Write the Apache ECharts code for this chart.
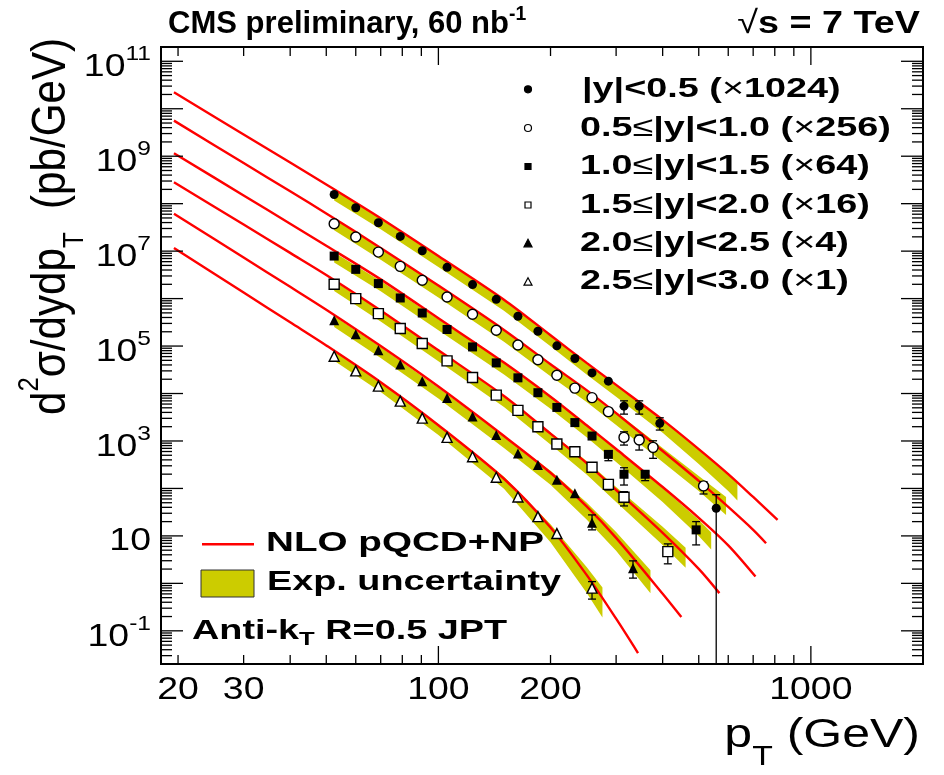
<!DOCTYPE html>
<html>
<head>
<meta charset="utf-8">
<title>Inclusive jet cross section, anti-kT R=0.5 JPT</title>
<script src="https://cdn.jsdelivr.net/npm/echarts@6.0.0/dist/echarts.min.js"></script>
<style>
  html, body { margin: 0; padding: 0; background: #fff; }
  #chart { width: 944px; height: 775px; }
</style>
</head>
<body>
<div id="chart"></div>
<script>
// ---------- measured points: pT bin centre (GeV) and d2sigma/dydpT (pb/GeV), with rapidity scale factor applied ----------
const ptY0 = [52.5, 60, 69, 79, 90.5, 105.5, 123.5, 143, 163.5, 185, 208, 232.5, 258.5, 286, 315, 346, 393, 557];
const xsY0 = [1.56e8, 8.2e7, 3.96e7, 2.04e7, 1.02e7, 4.55e6, 1.97e6, 9.66e5, 4.24e5, 2.05e5, 1.01e5, 5.47e4, 2.72e4, 1.82e4, 5.42e3, 5.42e3, 2.35e3, 38.2];

const ptY1 = [52.5, 60, 69, 79, 90.5, 105.5, 123.5, 143, 163.5, 185, 208, 232.5, 258.5, 286, 315, 346, 377, 515];
const xsY1 = [3.78e7, 1.98e7, 9.55e6, 4.78e6, 2.43e6, 1.08e6, 4.67e5, 2.15e5, 1.05e5, 5.16e4, 2.43e4, 1.30e4, 8.18e3, 4.15e3, 1.19e3, 1.05e3, 734, 113];

const ptY2 = [52.5, 60, 69, 79, 90.5, 105.5, 123.5, 143, 163.5, 185, 208, 232.5, 258.5, 286, 315, 359, 492];
const xsY2 = [7.87e6, 4.13e6, 2.07e6, 1.03e6, 4.97e5, 2.23e5, 9.59e4, 4.42e4, 2.14e4, 1.04e4, 5.09e3, 2.44e3, 1.27e3, 522, 199, 199, 13.4];

const ptY3 = [52.5, 60, 69, 79, 90.5, 105.5, 123.5, 143, 163.5, 185, 208, 232.5, 258.5, 286, 315, 413];
const xsY3 = [2.00e6, 1.00e6, 4.83e5, 2.34e5, 1.13e5, 4.87e4, 2.18e4, 9.24e3, 4.41e3, 1.99e3, 861, 593, 279, 122, 65.2, 4.67];

const ptY4 = [52.5, 60, 69, 79, 90.5, 105.5, 123.5, 143, 163.5, 185, 208, 232.5, 258.5, 333];
const xsY4 = [3.49e5, 1.77e5, 8.17e4, 4.09e4, 1.82e4, 8.0e3, 3.26e3, 1.33e3, 548, 311, 153, 79.1, 19.0, 2.09];

const ptY5 = [52.5, 60, 69, 79, 90.5, 105.5, 123.5, 143, 163.5, 185, 208, 258.5];
const xsY5 = [6.11e4, 3.0e4, 1.43e4, 6.92e3, 3.03e3, 1.19e3, 466, 172, 66.1, 25.5, 11.2, 0.794];

// ---------- statistical error bars on the high-pT points ----------
const errPtY0 = [315, 346, 393, 557];   const errLoY0 = [3.68e3, 3.68e3, 1.70e3, 1e-4]; const errHiY0 = [7.01e3, 7.01e3, 3.08e3, 73.9];
const errPtY1 = [315, 346, 377, 515];   const errLoY1 = [820, 644, 431, 76.4];          const errHiY1 = [1.56e3, 1.33e3, 1.01e3, 139];
const errPtY2 = [286, 315, 359, 492];   const errLoY2 = [384, 118, 146, 6.46];          const errHiY2 = [622, 273, 225, 20.0];
const errPtY3 = [286, 315, 413];        const errLoY3 = [92.7, 42.8, 2.58];             const errHiY3 = [151, 85.5, 6.79];
const errPtY4 = [258.5, 333];           const errLoY4 = [13.4, 1.29];                   const errHiY4 = [27.7, 2.98];
const errPtY5 = [258.5];                const errLoY5 = [0.466];                        const errHiY5 = [1.09];

// ---------- NLO pQCD + non-perturbative corrections ----------
const ptNlo0 = [19.5, 30, 40, 50, 70, 100, 150, 200, 250, 300, 400, 500, 600, 700, 814];
const nlo0   = [2.22e10, 2.88e9, 7.36e8, 2.54e8, 4.93e7, 7.91e6, 9.48e5, 1.69e5, 4.42e4, 1.52e4, 2.79e3, 676, 201, 66.1, 21.7];
const ptNlo1 = [19.5, 30, 40, 50, 70, 100, 150, 200, 250, 300, 400, 500, 600, 700, 758];
const nlo1   = [5.62e9, 7.18e8, 1.82e8, 6.22e7, 1.17e7, 1.88e6, 2.19e5, 4.13e4, 1.18e4, 3.86e3, 614, 144, 40.7, 13.4, 7.02];
const ptNlo2 = [19.5, 30, 40, 50, 70, 100, 150, 200, 250, 300, 400, 500, 600, 710];
const nlo2   = [1.16e9, 1.49e8, 3.78e7, 1.30e7, 2.54e6, 3.85e5, 4.48e4, 8.55e3, 2.14e3, 676, 107, 24.0, 6.31, 1.39];
const ptNlo3 = [19.5, 30, 40, 50, 70, 100, 150, 200, 250, 300, 400, 500, 568];
const nlo3   = [2.84e8, 3.64e7, 9.19e6, 3.15e6, 5.62e5, 8.13e4, 8.89e3, 1.43e3, 343, 92.7, 11.6, 2.02, 0.623];
const ptNlo4 = [19.5, 30, 40, 50, 70, 100, 150, 200, 250, 300, 400, 449];
const nlo4   = [6.14e7, 7.31e6, 1.77e6, 5.83e5, 1.00e5, 1.40e4, 1.27e3, 214, 41.7, 9.08, 0.603, 0.195];
const ptNlo5 = [19.5, 30, 40, 50, 70, 100, 150, 200, 250, 300, 343.5];
const nlo5   = [1.16e7, 1.34e6, 3.16e5, 1.03e5, 1.73e4, 2.15e3, 160, 15.1, 1.51, 0.180, 0.034];

// ---------- experimental uncertainty bands ----------
const ptBand0 = [52.5, 70, 100, 150, 200, 250, 300, 400, 500, 600, 635];
const bandHi0 = [2.00e8, 4.93e7, 7.91e6, 9.48e5, 1.69e5, 4.42e4, 1.52e4, 2.79e3, 676, 201, 134];
const bandLo0 = [1.17e8, 2.90e7, 4.65e6, 5.57e5, 9.93e4, 2.53e4, 8.51e3, 1.49e3, 327, 88.3, 55.8];
const ptBand1 = [52.5, 70, 100, 150, 200, 250, 300, 400, 500, 592];
const bandHi1 = [4.89e7, 1.17e7, 1.88e6, 2.19e5, 4.13e4, 1.18e4, 4.06e3, 710, 183, 65.8];
const bandLo1 = [2.74e7, 6.55e6, 1.05e6, 1.23e5, 2.31e4, 6.59e3, 2.16e3, 361, 88.5, 27.5];
const ptBand2 = [52.5, 70, 100, 150, 200, 250, 300, 400, 500, 540];
const bandHi2 = [9.33e6, 2.36e6, 3.66e5, 4.48e4, 8.97e3, 2.24e3, 676, 102, 21.8, 11.8];
const bandLo2 = [5.75e6, 1.42e6, 2.15e5, 2.51e4, 4.79e3, 1.20e3, 361, 51.8, 10.0, 5.18];
const ptBand3 = [52.5, 70, 100, 150, 200, 250, 300, 400, 461];
const bandHi3 = [2.34e6, 5.50e5, 8.13e4, 8.89e3, 1.50e3, 378, 107, 15.5, 5.62];
const bandLo3 = [1.44e6, 3.30e5, 4.78e4, 5.22e3, 841, 196, 51.9, 6.47, 2.14];
const ptBand4 = [52.5, 70, 100, 150, 200, 250, 300, 371];
const bandHi4 = [4.31e5, 9.55e4, 1.33e4, 1.27e3, 236, 50.6, 12.1, 1.89];
const bandLo4 = [2.53e5, 5.61e4, 7.82e3, 710, 120, 22.2, 4.84, 0.619];
const ptBand5 = [52.5, 70, 100, 150, 200, 250, 275.7];
const bandHi5 = [7.93e4, 1.73e4, 2.26e3, 176, 17.5, 2.22, 0.818];
const bandLo5 = [4.89e4, 1.07e4, 1.33e3, 98.4, 7.32, 0.631, 0.191];

// ---------- axes ----------
const xMin = 18, xMax = 2000, yMin = 0.02, yMax = 2e11;
const xTickValues = [20, 30, 40, 50, 60, 70, 80, 90, 100, 200, 300, 400, 500, 600, 700, 800, 900, 1000];
const xMajorTicks = [100, 1000];
const xLabelValues = [20, 30, 100, 200, 1000];
const yLabelExponents = [-1, 1, 3, 5, 7, 9, 11];

const legendTexts = [
  ['', '|y|<0.5 (', '1024)'],
  ['0.5', '|y|<1.0 (', '256)'],
  ['1.0', '|y|<1.5 (', '64)'],
  ['1.5', '|y|<2.0 (', '16)'],
  ['2.0', '|y|<2.5 (', '4)'],
  ['2.5', '|y|<3.0 (', '1)']
];

// ---------- styling ----------
const FF = '"Liberation Sans", Arial, Helvetica, sans-serif';
const RED = '#ff0000';
const BAND = '#cccc00';
const markerStyles = [
  { symbol: 'circle',   size: 9,  fill: '#000' },
  { symbol: 'circle',   size: 10, fill: '#fff' },
  { symbol: 'rect',     size: 9,  fill: '#000' },
  { symbol: 'rect',     size: 10, fill: '#fff' },
  { symbol: 'triangle', size: 10, fill: '#000' },
  { symbol: 'triangle', size: 10, fill: '#fff' }
];
const TICK_SX = 1.17;     // tick labels are drawn slightly widened
const LEG_SX = 1.35;      // legend lettering is wide and heavy

const measureCtx = document.createElement('canvas').getContext('2d');
function fontOf(size, bold) { return (bold ? 'bold ' : '') + size + 'px ' + FF; }
function textWidth(t, font) { measureCtx.font = font; return measureCtx.measureText(t).width; }

// one line of text made of pieces that may be raised (superscript) or lowered (subscript);
// sx stretches the glyphs along the line, sy across it
function textRun(pieces, x, y, align, sx, sy) {
  sx = sx || 1; sy = sy || 1;
  const fonts = pieces.map(p => fontOf(p.size, p.bold));
  const widths = pieces.map((p, i) => textWidth(p.t, fonts[i]) * sx);
  const total = widths.reduce((a, b) => a + b, 0);
  let cx = align === 'right' ? x - total : align === 'center' ? x - total / 2 : x;
  return pieces.map((p, i) => {
    const el = {
      type: 'text', x: cx, y: y + (p.dy || 0), scaleX: sx, scaleY: sy, silent: true,
      style: { text: p.t, font: fonts[i], fill: '#000',
               textAlign: 'left', textVerticalAlign: 'middle', align: 'left', verticalAlign: 'middle' }
    };
    cx += widths[i];
    return el;
  });
}

const points = [[ptY0, xsY0], [ptY1, xsY1], [ptY2, xsY2], [ptY3, xsY3], [ptY4, xsY4], [ptY5, xsY5]];
const errors = [
  [errPtY0, errLoY0, errHiY0], [errPtY1, errLoY1, errHiY1], [errPtY2, errLoY2, errHiY2],
  [errPtY3, errLoY3, errHiY3], [errPtY4, errLoY4, errHiY4], [errPtY5, errLoY5, errHiY5]
];
const curves = [[ptNlo0, nlo0], [ptNlo1, nlo1], [ptNlo2, nlo2], [ptNlo3, nlo3], [ptNlo4, nlo4], [ptNlo5, nlo5]];
const bands = [
  [ptBand0, bandLo0, bandHi0], [ptBand1, bandLo1, bandHi1], [ptBand2, bandLo2, bandHi2],
  [ptBand3, bandLo3, bandHi3], [ptBand4, bandLo4, bandHi4], [ptBand5, bandLo5, bandHi5]
];

const series = [];

// uncertainty bands: one filled polygon per rapidity bin
bands.forEach(([pt, lo, hi]) => {
  series.push({
    type: 'custom', z: 1, clip: true, silent: true,
    data: pt.map((p, i) => [p, lo[i], hi[i]]),
    encode: { x: 0, y: [1, 2] },
    renderItem: (params, api) => {
      if (params.dataIndex !== 0) return null;
      const upper = pt.map((p, i) => api.coord([p, hi[i]]));
      const lower = pt.map((p, i) => api.coord([p, lo[i]])).reverse();
      return { type: 'polygon', shape: { points: upper.concat(lower) }, style: { fill: BAND } };
    }
  });
});

// NLO curves
curves.forEach(([pt, v]) => {
  series.push({
    type: 'line', z: 2, silent: true, showSymbol: false, smooth: 0.3,
    data: pt.map((p, i) => [p, v[i]]),
    lineStyle: { color: RED, width: 2.4 }
  });
});

// error bars
errors.forEach(([pt, lo, hi]) => {
  series.push({
    type: 'custom', z: 3, clip: true, silent: true,
    data: pt.map((p, i) => [p, lo[i], hi[i]]),
    encode: { x: 0, y: [1, 2] },
    renderItem: (params, api) => {
      const a = api.coord([api.value(0), api.value(1)]);
      const b = api.coord([api.value(0), api.value(2)]);
      const st = { stroke: '#000', lineWidth: 1.3 };
      return { type: 'group', children: [
        { type: 'line', shape: { x1: a[0], y1: a[1], x2: b[0], y2: b[1] }, style: st },
        { type: 'line', shape: { x1: a[0] - 4, y1: a[1], x2: a[0] + 4, y2: a[1] }, style: st },
        { type: 'line', shape: { x1: b[0] - 4, y1: b[1], x2: b[0] + 4, y2: b[1] }, style: st }
      ] };
    }
  });
});

// data points
points.forEach(([pt, v], k) => {
  const m = markerStyles[k];
  series.push({
    type: 'scatter', z: 4, silent: true,
    symbol: m.symbol, symbolSize: m.size,
    data: pt.map((p, i) => [p, v[i]]),
    itemStyle: { color: m.fill, borderColor: '#000', borderWidth: m.fill === '#fff' ? 1.4 : 0, opacity: 1 }
  });
});

// x ticks (bottom and top) and labels
series.push({
  type: 'custom', z: 5, silent: true,
  data: xTickValues.map(v => [v, 1]),
  encode: { x: 0, y: 1 },
  renderItem: (params, api) => {
    const v = api.value(0);
    const cs = params.coordSys;
    const px = api.coord([v, 1])[0];
    const len = xMajorTicks.includes(v) ? 18 : 9;
    const bottom = cs.y + cs.height, top = cs.y;
    const st = { stroke: '#000', lineWidth: 1.3 };
    const children = [
      { type: 'line', shape: { x1: px, y1: bottom, x2: px, y2: bottom - len }, style: st },
      { type: 'line', shape: { x1: px, y1: top, x2: px, y2: top + len }, style: st }
    ];
    if (xLabelValues.includes(v)) {
      textRun([{ t: String(v), size: 32 }], px, bottom + 26, 'center', TICK_SX)
        .forEach(el => children.push(el));
    }
    return { type: 'group', children };
  }
});

// y ticks (left and right) and labels
const yTickValues = [];
for (let n = -2; n <= 11; n++) {
  for (let k = 1; k <= 9; k++) {
    const v = k * Math.pow(10, n);
    if (v >= yMin * 0.999 && v <= yMax * 1.001) yTickValues.push([100, v, k === 1 ? 1 : 0, n]);
  }
}
series.push({
  type: 'custom', z: 5, silent: true,
  data: yTickValues,
  encode: { x: 0, y: 1 },
  renderItem: (params, api) => {
    const cs = params.coordSys;
    const py = api.coord([100, api.value(1)])[1];
    const major = api.value(2) === 1;
    const n = api.value(3);
    const len = major ? 22 : 11;
    const left = cs.x, right = cs.x + cs.width;
    const st = { stroke: '#000', lineWidth: 1.3 };
    const children = [
      { type: 'line', shape: { x1: left, y1: py, x2: left + len, y2: py }, style: st },
      { type: 'line', shape: { x1: right, y1: py, x2: right - len, y2: py }, style: st }
    ];
    if (major && yLabelExponents.includes(n)) {
      const pieces = n === 1 ? [{ t: '10', size: 32, dy: 5 }]
                             : [{ t: '10', size: 32, dy: 6 }, { t: String(n), size: 21, dy: -7 }];
      textRun(pieces, left - 10, py, 'right', TICK_SX).forEach(el => children.push(el));
    }
    return { type: 'group', children };
  }
});

// ---------- annotations ----------
const graphics = [];
// header
textRun([{ t: 'CMS preliminary, 60 nb', size: 32, bold: true }, { t: '-1', size: 20, bold: true, dy: -10 }], 168, 24, 'left', 0.97)
  .forEach(e => graphics.push(e));
textRun([{ t: '\u221A', size: 32 }, { t: 's = 7 TeV', size: 32, bold: true }], 920, 24, 'right', 1.18)
  .forEach(e => graphics.push(e));

// rapidity legend
const legRows = [89.3, 128, 166.5, 205, 243.3, 281.7];
legendTexts.forEach((row, i) => {
  const m = markerStyles[i];
  const y = legRows[i];
  const s = m.symbol === 'triangle' ? 7 : 6;
  if (m.symbol === 'circle') {
    graphics.push({ type: 'circle', silent: true, shape: { cx: 528, cy: y, r: s / 2 + 0.5 },
      style: { fill: m.fill, stroke: '#000', lineWidth: 1.2 } });
  } else if (m.symbol === 'rect') {
    graphics.push({ type: 'rect', silent: true, shape: { x: 528 - s / 2, y: y - s / 2, width: s, height: s },
      style: { fill: m.fill, stroke: '#000', lineWidth: 1.2 } });
  } else {
    graphics.push({ type: 'polygon', silent: true,
      shape: { points: [[528, y - s / 2 - 0.5], [528 + s / 2 + 0.5, y + s / 2], [528 - s / 2 - 0.5, y + s / 2]] },
      style: { fill: m.fill, stroke: '#000', lineWidth: 1.2 } });
  }
  const pieces = [];
  if (row[0]) { pieces.push({ t: row[0], size: 28, bold: true }); pieces.push({ t: '\u2264', size: 28 }); }
  pieces.push({ t: row[1], size: 28, bold: true });
  pieces.push({ t: '\u00D7', size: 28 });
  pieces.push({ t: row[2], size: 28, bold: true });
  textRun(pieces, row[0] ? 580 : 582, y, 'left', LEG_SX).forEach(e => graphics.push(e));
});

// theory / uncertainty legend
graphics.push({ type: 'line', silent: true, shape: { x1: 202, y1: 544.3, x2: 254, y2: 544.3 },
  style: { stroke: RED, lineWidth: 2.4 } });
textRun([{ t: 'NLO pQCD+NP', size: 28, bold: true }], 266, 543, 'left', 1.38).forEach(e => graphics.push(e));
graphics.push({ type: 'rect', silent: true, shape: { x: 201, y: 570, width: 53, height: 27 },
  style: { fill: BAND, stroke: '#333', lineWidth: 1 } });
textRun([{ t: 'Exp. uncertainty', size: 28, bold: true }], 267, 582, 'left', LEG_SX).forEach(e => graphics.push(e));
textRun([{ t: 'Anti-k', size: 28, bold: true }, { t: 'T', size: 19, bold: true, dy: 9 }, { t: ' R=0.5 JPT', size: 28, bold: true }],
  192, 631, 'left', LEG_SX).forEach(e => graphics.push(e));

// axis titles
textRun([{ t: 'p', size: 40 }, { t: 'T', size: 27, dy: 22 }, { t: ' (GeV)', size: 40 }], 920, 736, 'right', 1.25)
  .forEach(e => graphics.push(e));
graphics.push({
  type: 'group', x: 51, y: 415, rotation: Math.PI / 2,
  children: textRun([
    { t: 'd', size: 49 }, { t: '2', size: 30, dy: -21 }, { t: '\u03C3/dydp', size: 49 },
    { t: 'T', size: 30, dy: 24 }, { t: '  (pb/GeV)', size: 49 }
  ], 0, 0, 'left', 0.86)
});

const chart = echarts.init(document.getElementById('chart'), null, { renderer: 'canvas' });
chart.setOption({
  animation: false,
  backgroundColor: '#fff',
  grid: { left: 161, top: 47, width: 762, height: 617, show: true, borderColor: '#000', borderWidth: 2,
          backgroundColor: 'transparent', containLabel: false },
  xAxis: {
    type: 'log', logBase: 10, min: xMin, max: xMax,
    axisLine: { show: false }, axisTick: { show: false }, axisLabel: { show: false },
    splitLine: { show: false }, minorTick: { show: false }
  },
  yAxis: {
    type: 'log', logBase: 10, min: yMin, max: yMax,
    axisLine: { show: false }, axisTick: { show: false }, axisLabel: { show: false },
    splitLine: { show: false }, minorTick: { show: false }
  },
  series: series,
  graphic: { elements: graphics }
});
</script>
</body>
</html>
